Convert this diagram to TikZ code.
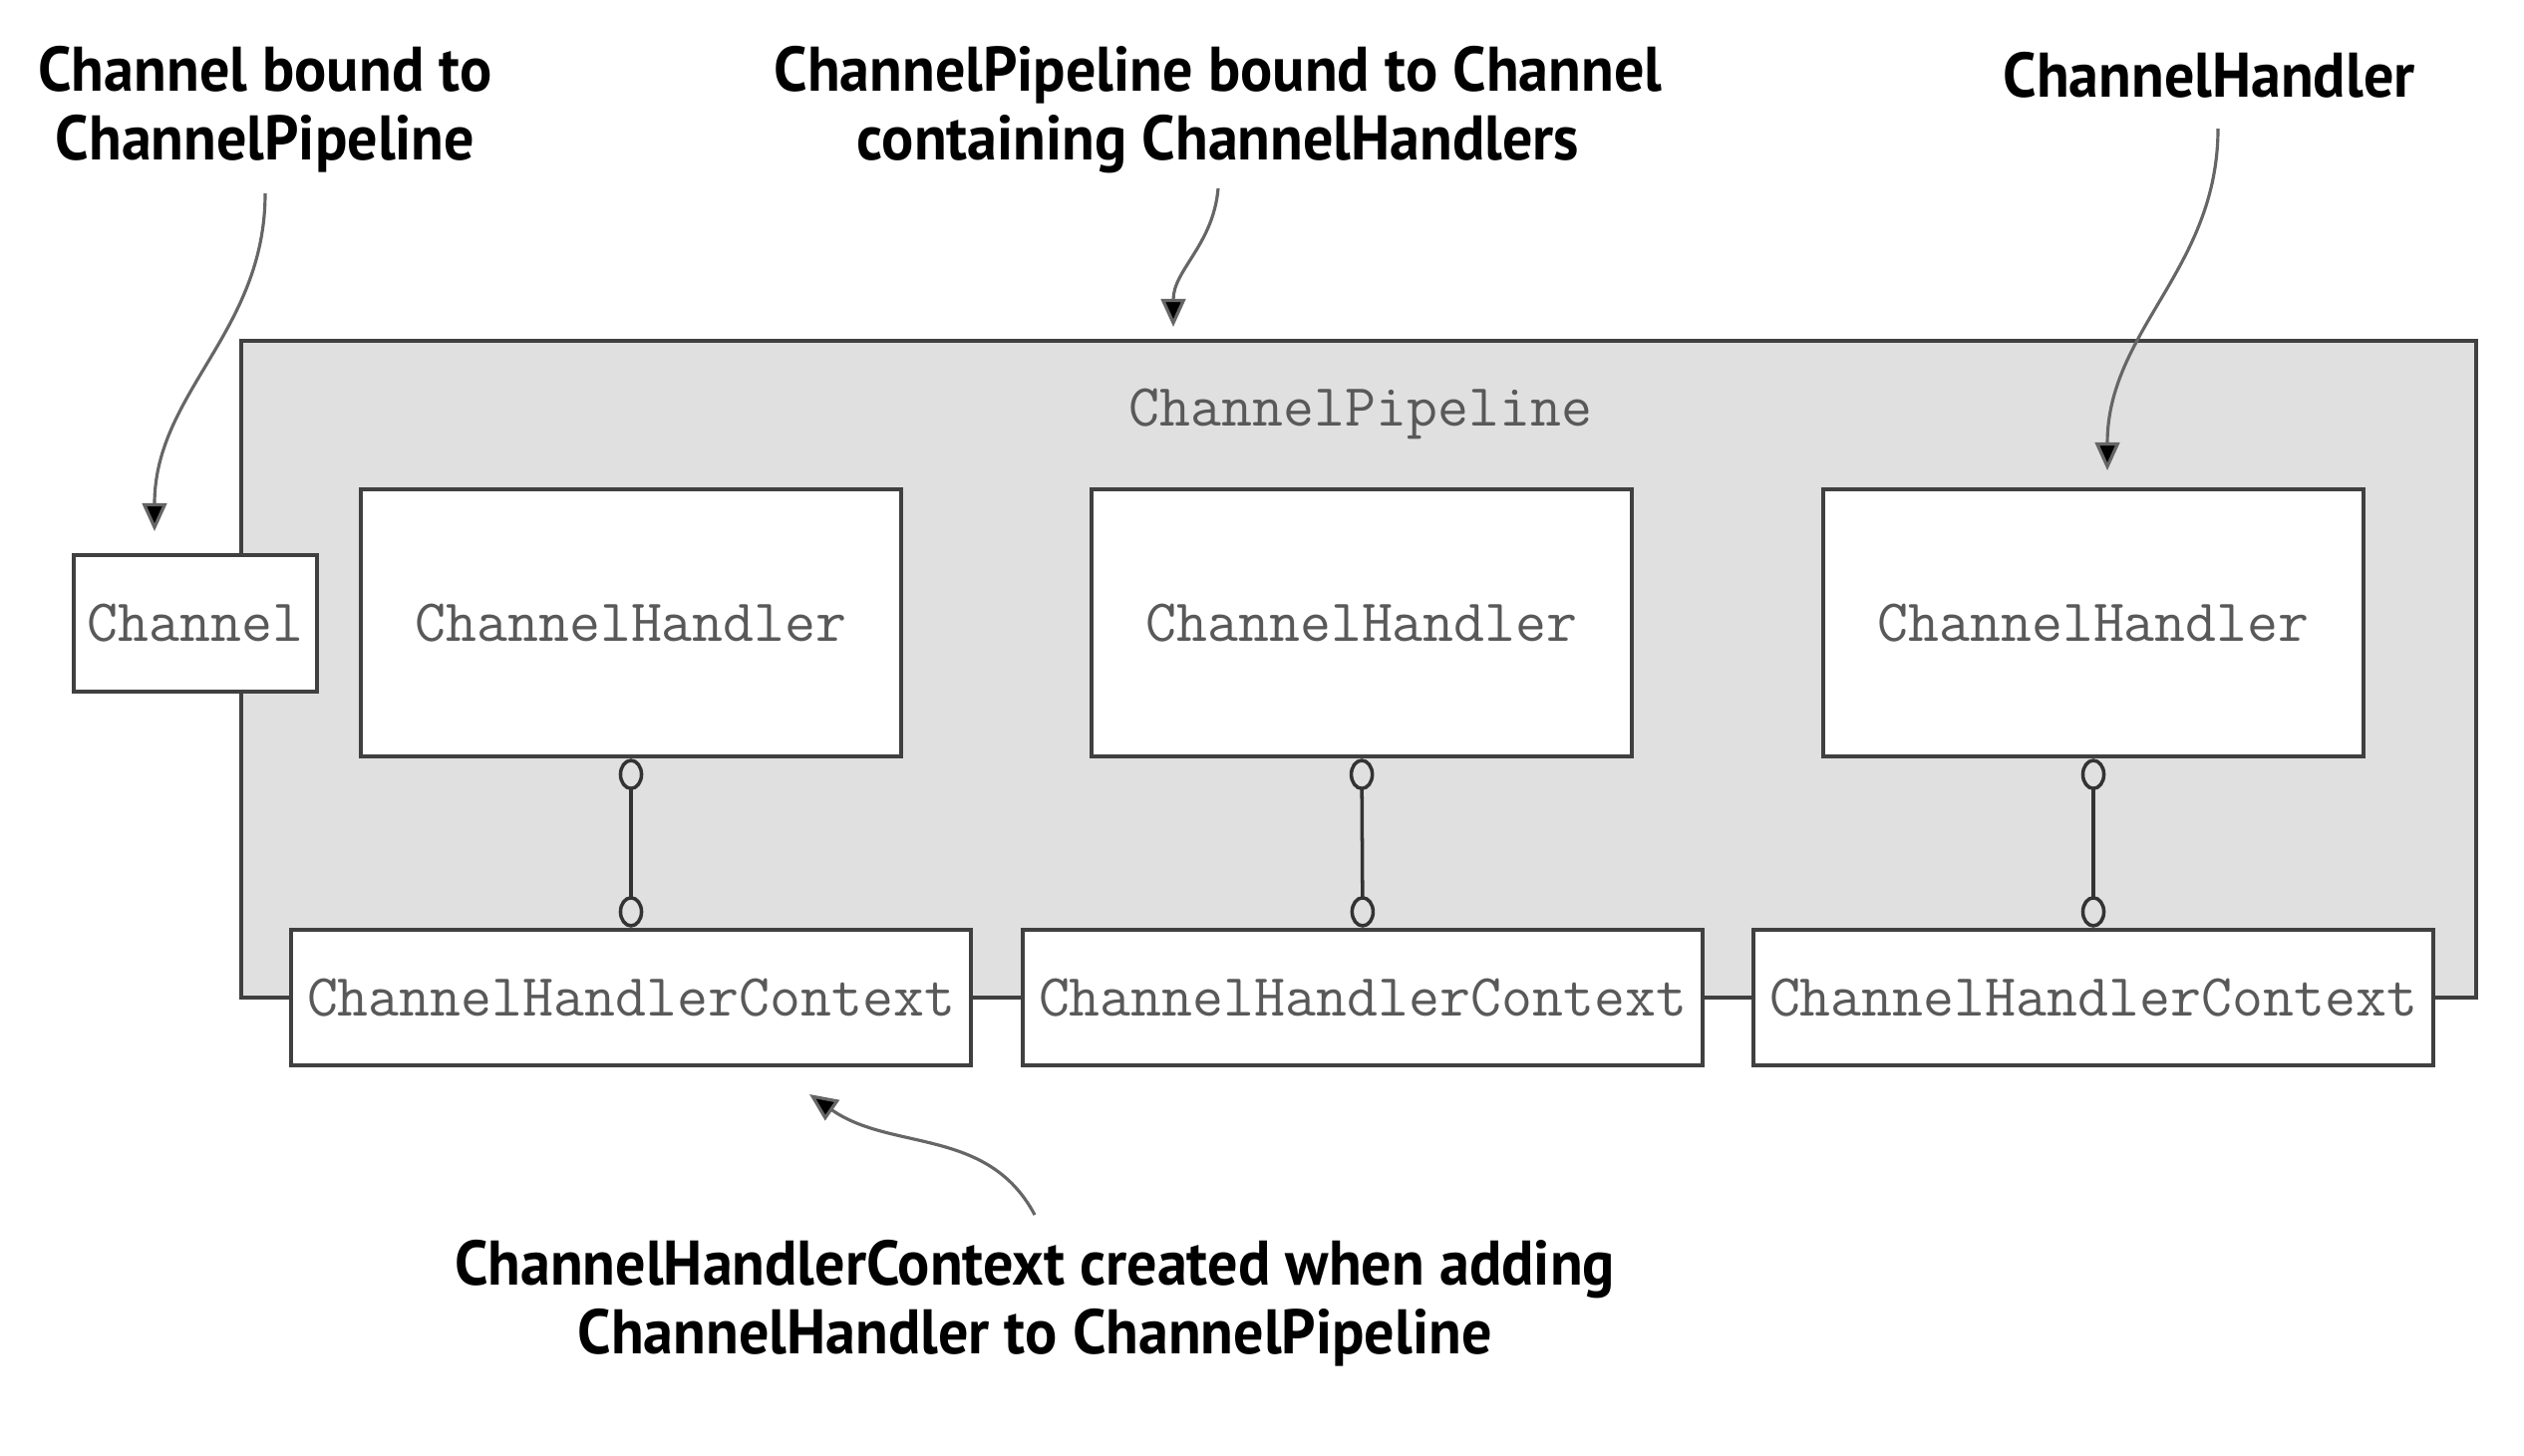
\documentclass[tikz,border=0pt]{standalone}
\usepackage{fontspec}
\newfontfamily\lblfont{PT Sans}[FakeStretch=0.95]
\usetikzlibrary{arrows.meta}
\begin{document}
\begin{tikzpicture}%
	[	x=1cm, y=1cm,
	pipeline/.style={draw=black!75, line width=1.3pt, fill=black!12},
	box/.style={draw=black!75, line width=1.3pt, fill=white, inner sep=0pt,
		font=\ttfamily\fontsize{17.1}{18}\selectfont, text=black!65},
	handler/.style={box, minimum width=5.42cm, minimum height=2.68cm},
	context/.style={box, minimum width=6.82cm, minimum height=1.36cm},
	channel/.style={box, minimum width=2.44cm, minimum height=1.37cm},
	link/.style={draw=black!80, line width=1pt,
		{Circle[open, length=9pt, width=7pt, line width=1pt]}-{Circle[open, length=9pt, width=7pt, line width=1pt]}},
	callout/.style={draw=black!60, line width=0.9pt, -{Triangle[length=8pt, width=7pt, fill=black]}},
	label/.style={align=center, font=\lblfont\bfseries\fontsize{18}{19.6}\selectfont, inner sep=1pt}]

\useasboundingbox (0,0) rectangle (25.32,-14.60);

\coordinate (channeltip) at (1.55,-5.33);
\coordinate (pipelinetip) at (11.77,-3.28);
\coordinate (handlertip) at (21.14,-4.72);
\coordinate (contexttip) at (8.12,-10.98);

\node[pipeline, minimum width=22.42cm, minimum height=6.59cm] (pipeline) at (13.63,-6.715) {};
\node[box, draw=none, fill=none] (pipelinename) at (13.65,-4.15) {ChannelPipeline};

\node[channel] (channel) at (1.96,-6.255) {Channel};

\node[handler] (h1) at (6.33,-6.25) {ChannelHandler};
\node[handler] (h2) at (13.66,-6.25) {ChannelHandler};
\node[handler] (h3) at (21.00,-6.25) {ChannelHandler};

\node[context] (c1) at (6.33,-10.01) {ChannelHandlerContext};
\node[context] (c2) at (13.67,-10.01) {ChannelHandlerContext};
\node[context] (c3) at (21.00,-10.01) {ChannelHandlerContext};

\draw[link] (h1.south) -- (c1.north);
\draw[link] (h2.south) -- (c2.north);
\draw[link] (h3.south) -- (c3.north);

\node[label] (lblchannel) at (2.66,-1.10) {Channel bound to\\ChannelPipeline};
\node[label] (lblpipeline) at (12.22,-1.10) {ChannelPipeline bound to Channel\\containing ChannelHandlers};
\node[label] (lblhandler) at (22.16,-0.75) {ChannelHandler};
\node[label] (lblcontext) at (10.38,-13.08) {ChannelHandlerContext created when adding\\ChannelHandler to ChannelPipeline};

\draw[callout] (2.66,-1.94) to[out=-90, in=90] (channeltip);
\draw[callout] (12.22,-1.89) to[out=-95, in=90] (pipelinetip);
\draw[callout] (22.25,-1.29) to[out=-90, in=90] (handlertip);
\draw[callout] (10.38,-12.19) to[out=118, in=-35] (contexttip);
\end{tikzpicture}
\end{document}
